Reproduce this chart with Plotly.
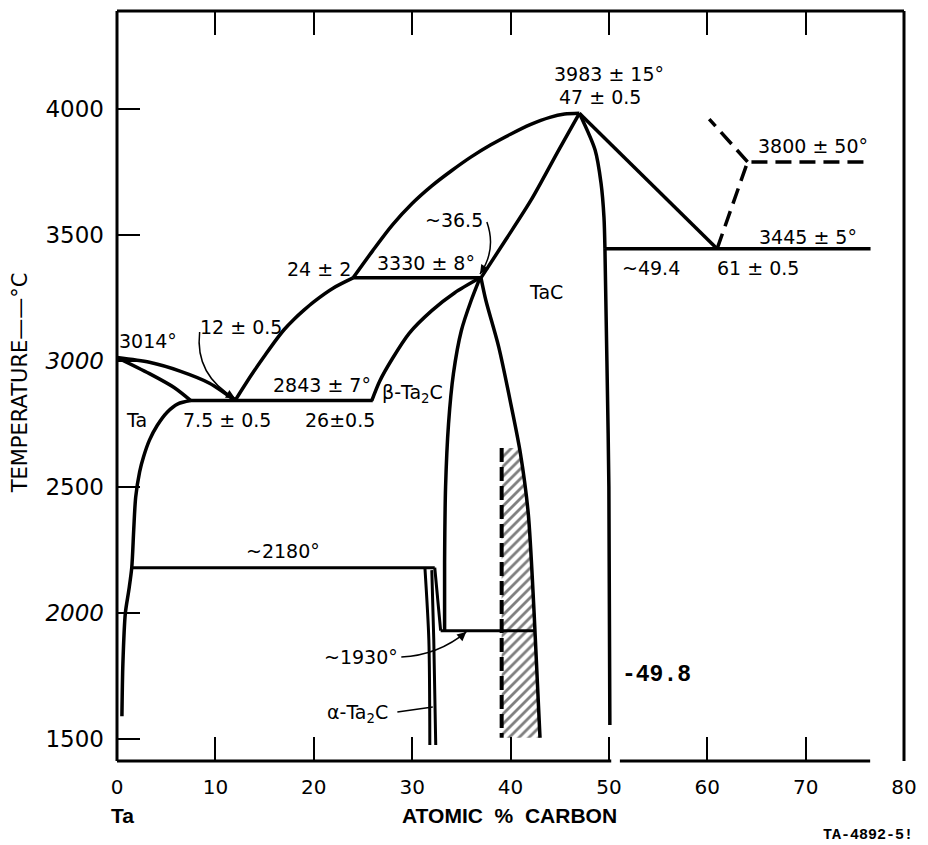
import plotly.graph_objects as go

# ---------------- data: phase boundaries (atomic % C, temperature °C) ----------------
ta_liquidus_x = [0, 3.3, 6.4, 9.4, 12]
ta_liquidus_t = [3014, 2995, 2960, 2912, 2843]
ta_solidus_x = [0, 3.3, 5.8, 7.5]
ta_solidus_t = [3014, 2950, 2895, 2843]
ta_solvus_x = [7.5, 6.2, 5.1, 4.1, 3.3, 2.7, 2.3, 1.9, 1.7, 1.5, 1.2, 0.85, 0.6, 0.5]
ta_solvus_t = [2843, 2830, 2797, 2745, 2686, 2620, 2560, 2460, 2330, 2180, 2090, 2000, 1800, 1590]
ta2c_liquidus_x = [12, 13, 14, 15, 16, 17, 18, 19, 20, 22, 24]
ta2c_liquidus_t = [2843, 2905, 2964, 3020, 3075, 3125, 3166, 3202, 3235, 3290, 3330]
tac_liquidus_x = [24, 26, 28, 30, 32, 34, 36, 38, 40, 42, 44, 45.5, 47]
tac_liquidus_t = [3330, 3438, 3540, 3625, 3695, 3755, 3810, 3858, 3900, 3938, 3967, 3980, 3983]
tac_solidus_x = [37, 39.5, 42.1, 44.9, 47]
tac_solidus_t = [3330, 3480, 3639, 3837, 3983]
tac_c_side_x = [47, 48.6, 49.2, 49.5, 49.6]
tac_c_side_t = [3983, 3837, 3706, 3571, 3445]
tac_c_solvus_x = [49.6, 49.8, 50.0, 50.1]
tac_c_solvus_t = [3445, 3000, 2500, 1556]
c_liquidus_x = [47, 61]
c_liquidus_t = [3983, 3445]
beta_left_x = [25.9, 26.7, 28.0, 29.7, 32.0, 34.3, 36.9]
beta_left_t = [2843, 2920, 3010, 3110, 3200, 3270, 3330]
beta_right_x = [36.9, 36.0, 35.0, 34.2, 33.7, 33.4, 33.3, 33.3]
beta_right_t = [3330, 3240, 3120, 2950, 2750, 2500, 2200, 1930]
tac_left_x = [37.0, 37.5, 38.8, 40.1, 41.0, 41.8, 42.4, 43.0]
tac_left_t = [3330, 3240, 3056, 2817, 2635, 2397, 2000, 1505]
alpha_left_x = [31.3, 31.7, 31.8]
alpha_left_t = [2180, 1893, 1476]
alpha_right_x = [32.0, 32.2, 32.4]
alpha_right_t = [2170, 1893, 1476]
beta_alpha_x = [32.3, 32.9]
beta_alpha_t = [2180, 1930]

# isotherms
iso_2843_x, iso_2843_t = [7.5, 26], [2843, 2843]
iso_3330_x, iso_3330_t = [24, 37], [3330, 3330]
iso_3445_x, iso_3445_t = [49.6, 76.6], [3445, 3445]
iso_2180_x, iso_2180_t = [1.5, 32.3], [2180, 2180]
iso_1930_x, iso_1930_t = [32.9, 42.4], [1930, 1930]

# dashed (uncertain) boundaries
dash_c_x = [61, 64.1, 76.6]
dash_c_t = [3445, 3790, 3790]
dash_c2_x = [64.1, 60.2]
dash_c2_t = [3790, 3960]
dash_v_x = [39.1, 39.1]
dash_v_t = [2655, 1505]
hatch_x = [39.1, 40.9, 41.8, 42.4, 43.0, 39.1]
hatch_t = [2655, 2655, 2397, 2000, 1505, 1505]

x_ticks = [0, 10, 20, 30, 40, 50, 60, 70, 80]
y_ticks = [1500, 2000, 2500, 3000, 3500, 4000]
y_ticktext = ["1500", "<i>2000</i>", "2500", "<i>3000</i>", "3500", "4000"]

# ---------------- figure ----------------
fig = go.Figure()
BLK = "black"


def curve(x, y, w=3.5, smooth=True, dash=None):
    fig.add_trace(go.Scatter(
        x=x, y=y, mode="lines", hoverinfo="skip", showlegend=False,
        line=dict(color=BLK, width=w, shape="spline" if smooth else "linear",
                  smoothing=0.8, dash=dash)))


# hatched band
fig.add_trace(go.Scatter(
    x=hatch_x, y=hatch_t, mode="lines", fill="toself", showlegend=False,
    hoverinfo="skip", line=dict(width=0, color="rgba(0,0,0,0)"),
    fillcolor="white",
    fillpattern=dict(shape="/", fgcolor=BLK, bgcolor="white", size=7, solidity=0.4)))

curve(ta_liquidus_x, ta_liquidus_t)
curve(ta_solidus_x, ta_solidus_t)
curve(ta_solvus_x, ta_solvus_t)
curve(ta2c_liquidus_x, ta2c_liquidus_t)
curve(tac_liquidus_x, tac_liquidus_t)
curve(tac_solidus_x, tac_solidus_t)
curve(tac_c_side_x, tac_c_side_t)
curve(tac_c_solvus_x, tac_c_solvus_t)
curve(c_liquidus_x, c_liquidus_t, smooth=False)
curve(beta_left_x, beta_left_t)
curve(beta_right_x, beta_right_t)
curve(tac_left_x, tac_left_t)
curve(alpha_left_x, alpha_left_t, w=3)
curve(alpha_right_x, alpha_right_t, w=3)
curve(beta_alpha_x, beta_alpha_t, w=3, smooth=False)
curve(iso_2843_x, iso_2843_t, smooth=False)
curve(iso_3330_x, iso_3330_t, smooth=False)
curve(iso_3445_x, iso_3445_t, smooth=False)
curve(iso_2180_x, iso_2180_t, w=3, smooth=False)
curve(iso_1930_x, iso_1930_t, w=3, smooth=False)
curve(dash_c_x, dash_c_t, smooth=False, dash="16px,8px")
curve(dash_c2_x, dash_c2_t, smooth=False, dash="16px,8px")
curve(dash_v_x, dash_v_t, w=4, smooth=False, dash="14px,5px")

# ---------------- frame ----------------
frame = [
    (0, 0, 0, 1), (0, 1, 1, 1), (1, 0, 1, 1),
    (0, 0, 0.628, 0), (0.639, 0, 0.957, 0),
]
for x0, y0, x1, y1 in frame:
    fig.add_shape(type="line", xref="paper", yref="paper", x0=x0, y0=y0, x1=x1, y1=y1,
                  line=dict(color=BLK, width=3))

# curved leader arrows
leaders = [
    "M 8.4,3115 Q 7.9,2944 12,2852",
    "M 37.6,3552 Q 38.6,3441 36.9,3345",
    "M 28.9,1825 Q 32.7,1833 35.5,1925",
    "M 28.5,1607 L 32.1,1627",
]
for p in leaders:
    fig.add_shape(type="path", xref="x", yref="y", path=p, line=dict(color=BLK, width=1.5))

heads = [(12, 2852, -9, -5), (36.9, 3345, 6, -9), (35.5, 1925, -8, 7)]
for hx, hy, ax, ay in heads:
    fig.add_annotation(x=hx, y=hy, ax=ax, ay=ay, text="", showarrow=True,
                       arrowhead=2, arrowsize=1.2, arrowwidth=1.5, arrowcolor=BLK)

# ---------------- labels ----------------
LF = dict(family="DejaVu Sans", size=19, color=BLK)
labels = [
    ("3983 ± 15°", 50.0, 4139, "center"),
    ("47 ± 0.5", 49.1, 4048, "center"),
    ("3800 ± 50°", 65.0, 3853, "left"),
    ("3445 ± 5°", 65.1, 3492, "left"),
    ("~49.4", 51.1, 3369, "left"),
    ("61 ± 0.5", 60.8, 3369, "left"),
    ("TaC", 43.6, 3274, "center"),
    ("~36.5", 34.3, 3560, "center"),
    ("3330 ± 8°", 31.4, 3389, "center"),
    ("24 ± 2", 20.5, 3365, "center"),
    ("3014°", 3.2, 3079, "center"),
    ("12 ± 0.5", 12.6, 3135, "center"),
    ("2843 ± 7°", 20.8, 2905, "center"),
    ("Ta", 2.0, 2766, "center"),
    ("7.5 ± 0.5", 11.2, 2766, "center"),
    ("26±0.5", 22.7, 2766, "center"),
    ("β-Ta<sub>2</sub>C", 30.0, 2872, "center"),
    ("~2180°", 16.9, 2246, "center"),
    ("~1930°", 24.8, 1825, "center"),
    ("α-Ta<sub>2</sub>C", 24.4, 1600, "center"),
]
for txt, x, y, xa in labels:
    fig.add_annotation(x=x, y=y, text=txt, showarrow=False, xanchor=xa, yanchor="middle",
                       font=LF)

fig.add_annotation(x=54.8, y=1754, text="<b>-49.8</b>", showarrow=False,
                   font=dict(family="Liberation Mono", size=23, color=BLK))

fig.add_annotation(xref="paper", yref="paper", x=-0.1228, y=0.504, textangle=-90,
                   text="TEMPERATURE——°C", showarrow=False, xanchor="center", yanchor="middle",
                   font=dict(family="DejaVu Sans", size=21, color=BLK))
fig.add_annotation(xref="paper", yref="paper", x=0.0076, y=-0.072, text="<b>Ta</b>",
                   showarrow=False, xanchor="center", yanchor="middle",
                   font=dict(family="Liberation Sans", size=21, color=BLK))
fig.add_annotation(xref="paper", yref="paper", x=0.4987, y=-0.072,
                   text="<b>ATOMIC  %  CARBON</b>", showarrow=False,
                   xanchor="center", yanchor="middle",
                   font=dict(family="Liberation Sans", size=21, color=BLK))
fig.add_annotation(xref="paper", yref="paper", x=0.954, y=-0.0987, text="<b>TA-4892-5!</b>",
                   showarrow=False, xanchor="center", yanchor="middle",
                   font=dict(family="Liberation Mono", size=15, color=BLK))

fig.update_layout(
    width=928, height=845,
    margin=dict(l=117, r=21, t=11, b=84),
    paper_bgcolor="white", plot_bgcolor="white",
    showlegend=False,
    xaxis=dict(range=[0, 80], tickvals=x_ticks, ticktext=[str(v) for v in x_ticks],
               ticks="inside", ticklen=24, tickwidth=2, tickcolor=BLK, mirror="ticks",
               showline=False, showgrid=False, zeroline=False,
               tickfont=dict(family="DejaVu Sans", size=20, color=BLK),
               ticklabelstandoff=12),
    yaxis=dict(range=[1412.7, 4388.9], tickvals=y_ticks, ticktext=y_ticktext,
               ticks="inside", ticklen=23, tickwidth=2, tickcolor=BLK,
               showline=False, showgrid=False, zeroline=False,
               tickfont=dict(family="DejaVu Sans", size=23, color=BLK),
               ticklabelstandoff=12),
)

fig.write_html("out.html")
